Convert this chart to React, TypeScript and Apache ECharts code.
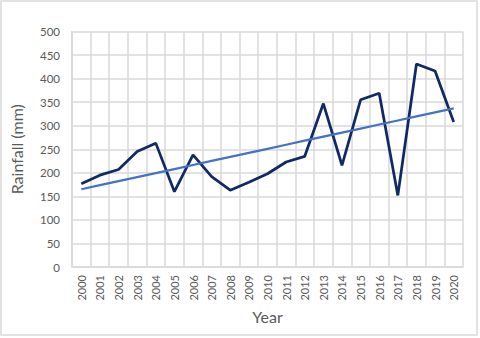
import React, { useEffect, useRef } from "react";
import * as echarts from "echarts";

const years = [
  "2000", "2001", "2002", "2003", "2004", "2005", "2006", "2007", "2008", "2009", "2010",
  "2011", "2012", "2013", "2014", "2015", "2016", "2017", "2018", "2019", "2020",
];
const rainfall = [
  177, 195, 207, 245, 263, 160, 238, 192, 163, 180, 198,
  223, 235, 347, 216, 355, 369, 152, 431, 416, 308,
];
const yTicks = { min: 0, max: 500, interval: 50 };

// Linear (least-squares) trendline, as Excel computes it from the data
function linearTrend(vals: number[]): number[] {
  const n = vals.length;
  const xm = (n - 1) / 2;
  const ym = vals.reduce((a, b) => a + b, 0) / n;
  let sxy = 0;
  let sxx = 0;
  vals.forEach((v, i) => {
    sxy += (i - xm) * (v - ym);
    sxx += (i - xm) * (i - xm);
  });
  const slope = sxy / sxx;
  return vals.map((_, i) => +(ym + slope * (i - xm)).toFixed(2));
}

export default function App() {
  const ref = useRef<HTMLDivElement>(null);
  useEffect(() => {
    document.body.style.margin = "0";
    if (!ref.current) return;
    const chart = echarts.init(ref.current, undefined, { renderer: "svg" });
    const font = "Lato, 'Open Sans', sans-serif";
    chart.setOption({
      animation: false,
      backgroundColor: "#ffffff",
      textStyle: { fontFamily: font },
      grid: { left: 66.5, right: 17, top: 31.5, bottom: 71, containLabel: false },
      graphic: [
        {
          type: "rect",
          shape: { x: 1, y: 1, width: 476, height: 334 },
          style: { fill: "none", stroke: "#d9d9d9", lineWidth: 1.5 },
          silent: true,
        },
      ],
      xAxis: {
        type: "category",
        data: years,
        boundaryGap: true,
        name: "Year",
        nameLocation: "middle",
        nameGap: 41,
        nameTextStyle: { color: "#595959", fontSize: 16, fontFamily: font },
        axisLine: { show: true, lineStyle: { color: "#d9d9d9", width: 1.5 } },
        axisTick: { show: false },
        axisLabel: {
          rotate: 90,
          interval: 0,
          color: "#595959",
          fontSize: 11,
          margin: 8,
          fontFamily: font,
        },
        splitLine: { show: true, interval: 0, lineStyle: { color: "#d9d9d9", width: 1.5 } },
      },
      yAxis: {
        type: "value",
        min: yTicks.min,
        max: yTicks.max,
        interval: yTicks.interval,
        name: "Rainfall (mm)",
        nameLocation: "middle",
        nameGap: 48,
        nameTextStyle: { color: "#595959", fontSize: 16, fontFamily: font },
        axisLine: { show: true, lineStyle: { color: "#d9d9d9", width: 1.5 } },
        axisTick: { show: false },
        axisLabel: { color: "#595959", fontSize: 11.5, margin: 12, fontFamily: font },
        splitLine: { show: true, lineStyle: { color: "#d9d9d9", width: 1.5 } },
      },
      series: [
        {
          name: "Rainfall",
          type: "line",
          data: rainfall,
          symbol: "none",
          lineStyle: { color: "#0f2a64", width: 2.75 },
          z: 3,
        },
        {
          name: "Linear trend",
          type: "line",
          data: linearTrend(rainfall),
          symbol: "none",
          lineStyle: { color: "#4472c4", width: 2.25 },
          z: 4,
        },
      ],
    });
    return () => chart.dispose();
  }, []);
  return <div ref={ref} style={{ width: 480, height: 338 }} />;
}
